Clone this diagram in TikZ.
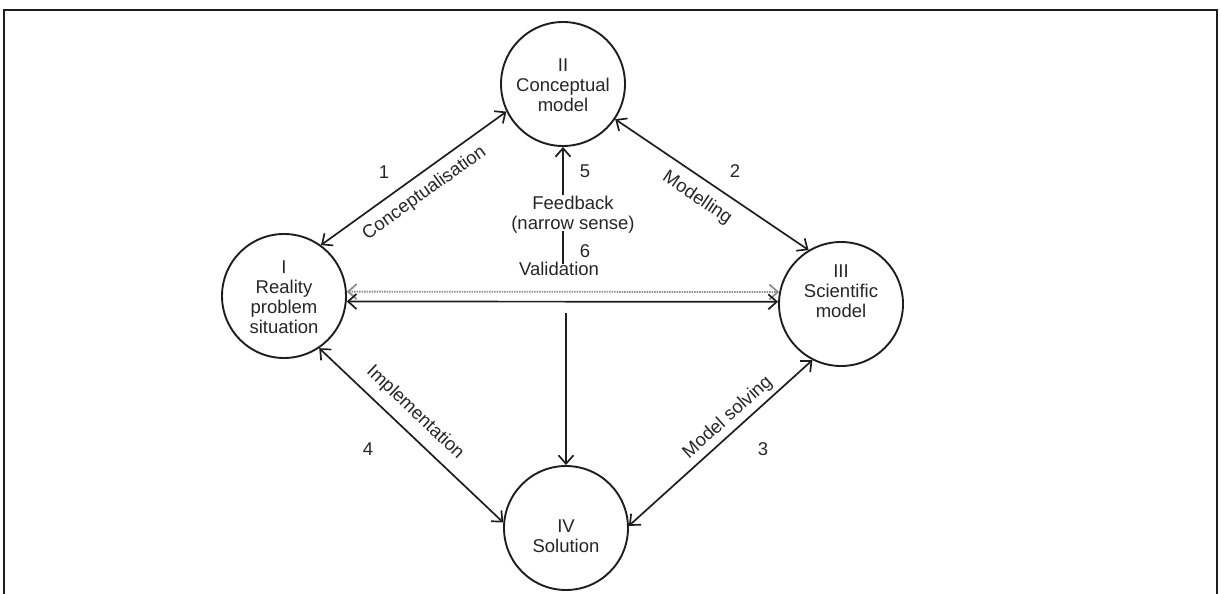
\documentclass[tikz,border=0pt]{standalone}
\usepackage{fontspec}
\setmainfont{Liberation Sans}
\usetikzlibrary{arrows.meta}
\definecolor{ink}{HTML}{1E1E1E}
\definecolor{txt}{HTML}{262626}
\definecolor{dots}{HTML}{8E8E8E}
\begin{document}
\begin{tikzpicture}[x=1pt,y=-1pt,
  state/.style={circle, draw=ink, line width=1.9pt, minimum size=124pt, inner sep=0pt},
  stxt/.style={align=center, font=\fontsize{18.5}{20}\selectfont, text=txt, inner sep=1pt},
  lbl/.style={font=\fontsize{18.5}{20}\selectfont, text=txt, inner sep=1pt},
  barb/.tip={Straight Barb[length=8.5pt,width=15pt]},
  conn/.style={draw=ink, line width=1.7pt, barb-barb},
  oneway/.style={draw=ink, line width=1.7pt, -barb},
  dotconn/.style={draw=dots, line width=1.8pt, dash pattern=on 1.5pt off 1pt, barb-barb},
]
\useasboundingbox (0,0) rectangle (1221,594);
\draw[ink, line width=2.2pt] (4,640) -- (4,10) -- (1217,10) -- (1217,640);

% states
\node[state] (II) at (563,84) {};
\node[stxt] (IIt) at (563,85) {II\\Conceptual\\model};
\node[state] (I) at (284,296) {};
\node[stxt] (It) at (284,297) {I\\Reality\\problem\\situation};
\node[state] (III) at (841,304) {};
\node[stxt] (IIIt) at (841,291) {III\\Scientific\\model};
\node[state] (IV) at (566,528) {};
\node[stxt] (IVt) at (566,536) {IV\\Solution};

% main connectors
\draw[conn] (I.54) -- node[lbl, sloped, pos=0.5, below=8pt] {Conceptualisation} (II.206);
\draw[conn] (II.326) -- node[lbl, sloped, pos=0.48, below=9pt] {Modelling} (III.121);
\draw[conn] (IV.2) -- node[lbl, sloped, pos=0.59, above=3.5pt] {Model solving} (III.243);
\draw[conn] (I.304) -- node[lbl, sloped, pos=0.45, above=8.5pt] {Implementation} (IV.175);

% numbers
\node[lbl] (n1) at (384,172) {1};
\node[lbl] (n2) at (735,171) {2};
\node[lbl] (n3) at (763,449) {3};
\node[lbl] (n4) at (368,449) {4};
\node[lbl] (n5) at (585,171) {5};
\node[lbl] (n6) at (585,251) {6};

% horizontal validation arrows
\draw[dotconn] (I.4) -- (III.169);
\draw[conn] (I.-5) -- (III.178);

% feedback / validation vertical
\node[stxt] (fb) at (573,215) {Feedback\\(narrow sense)};
\node[lbl] (val) at (559,269) {Validation};
\draw[oneway] (II.south |- fb.north) -- (II.south);
\draw[ink, line width=1.7pt] ([yshift=4pt]II.south |- fb.south) -- ([yshift=-3pt]II.south |- val.north);
\coordinate (vtop) at (566,313);
\draw[oneway] (vtop) -- (IV.north);
\end{tikzpicture}
\end{document}
